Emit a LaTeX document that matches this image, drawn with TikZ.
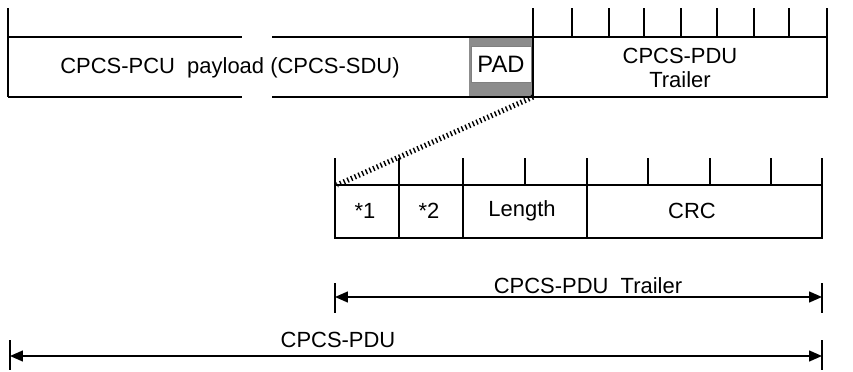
\documentclass[tikz,border=0pt]{standalone}
\usepackage{fontspec}
\setmainfont{Liberation Sans}
\usetikzlibrary{arrows.meta}

\begin{document}
\begin{tikzpicture}[
        x=0.02cm, y=-0.02cm,
        line width=0.8pt,
        lbl/.style={inner sep=0pt, font=\fontsize{12.5}{13.5}\selectfont},
        hatch/.style={line width=3pt, dash pattern=on 0.8pt off 1.5pt},
        dimarr/.style={{Triangle[length=0.26cm,width=0.22cm]}-{Triangle[length=0.26cm,width=0.22cm]}}
    ]
        \useasboundingbox (0,0) rectangle (853,372);
        % payload, drawn broken
        \draw (8,8) -- (8,97);
        \draw (8,37) -- (242,37) (272,37) -- (469,37);
        \draw (8,97) -- (242,97) (272,97) -- (469,97);
        \node[lbl] (payload) at (230,68) {CPCS-PCU\ \ payload (CPCS-SDU)};
        % PAD
        \fill[black!45] (469,37) rectangle (533,97);
        \draw (469,37) -- (533,37) (469,97) -- (533,97);
        \node[lbl, fill=white, draw=black!50, line width=0.3pt, minimum width=1.2cm, minimum height=0.72cm, font=\fontsize{13.5}{14}\selectfont] (pad) at (501,64) {PAD};
        % trailer
        \draw (533,37) rectangle (827,97);
        \foreach \x in {533,572,609,644,681,717,754,789,827}
            \draw (\x,8) -- (\x,37);
        \node[lbl, align=center] (trailer) at (680,68) {CPCS-PDU\\Trailer};
        % trailer fields
        \draw (335,185) rectangle (822,238);
        \foreach \x in {335,399,463,525,587,648,710,771,822}
            \draw (\x,158) -- (\x,185);
        \draw (399,185) -- (399,238) (463,185) -- (463,238) (587,185) -- (587,238);
        \node[lbl] (f1) at (365,211) {*1};
        \node[lbl] (f2) at (429,211) {*2};
        \node[lbl] (len) at (522,211) {Length};
        \node[lbl] (crc) at (692,211) {CRC};
        % expansion
        \coordinate (padcorner) at (533,97);
        \coordinate (fieldcorner) at (337,185);
        \draw[hatch] (padcorner) -- (fieldcorner);
        % dimensions
        \draw (335,283) -- (335,313) (822,283) -- (822,313);
        \coordinate (trl) at (335,297);
        \coordinate (trr) at (822,297);
        \draw[dimarr] (trl) -- (trr);
        \node[lbl] (trailerdim) at (588,286) {CPCS-PDU\ \ Trailer};
        \draw (10,340) -- (10,370) (822,340) -- (822,370);
        \coordinate (pdul) at (10,356);
        \coordinate (pdur) at (822,356);
        \draw[dimarr] (pdul) -- (pdur);
        \node[lbl] (pdudim) at (338,340) {CPCS-PDU};
    \end{tikzpicture}
\end{document}
